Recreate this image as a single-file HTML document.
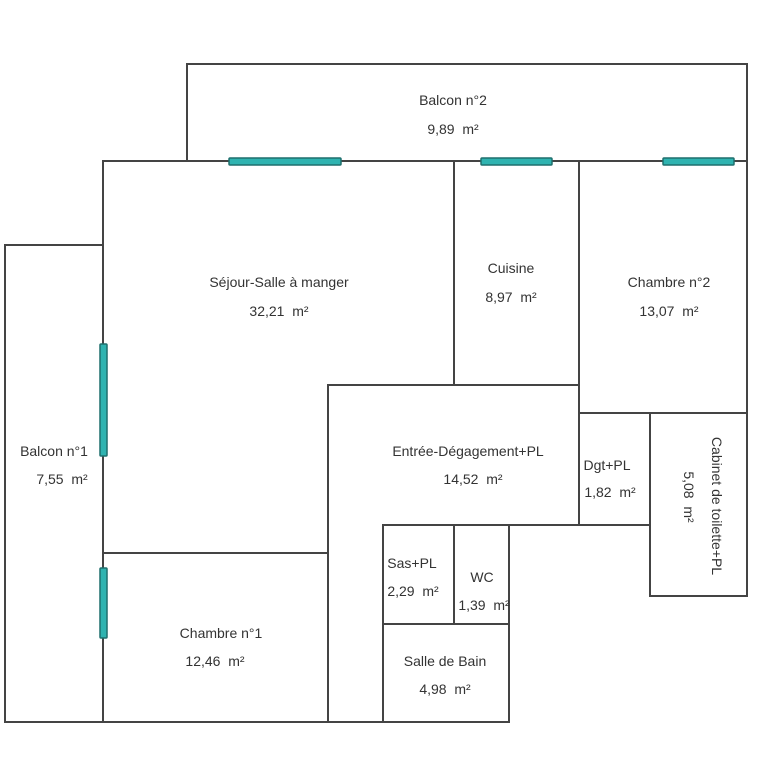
<!DOCTYPE html>
<html><head><meta charset="utf-8"><style>
html,body{margin:0;padding:0;background:#fff;}
svg{display:block;}
text{font-family:"Liberation Sans",Arial,sans-serif;font-size:14px;fill:#333;text-anchor:middle;}
</style></head><body>
<svg width="761" height="767" viewBox="0 0 761 767" xmlns="http://www.w3.org/2000/svg">
<g stroke="#444" stroke-width="2" fill="none" stroke-linecap="square">
<rect x="187" y="64" width="560" height="97"/>
<line x1="103" y1="161" x2="747" y2="161"/>
<line x1="103" y1="161" x2="103" y2="722"/>
<rect x="5" y="245" width="98" height="477"/>
<line x1="5" y1="722" x2="509" y2="722"/>
<line x1="454" y1="161" x2="454" y2="385"/>
<line x1="579" y1="161" x2="579" y2="525"/>
<line x1="747" y1="161" x2="747" y2="596"/>
<line x1="328" y1="385" x2="579" y2="385"/>
<line x1="328" y1="385" x2="328" y2="722"/>
<line x1="103" y1="553" x2="328" y2="553"/>
<line x1="579" y1="413" x2="747" y2="413"/>
<line x1="650" y1="413" x2="650" y2="596"/>
<line x1="650" y1="596" x2="747" y2="596"/>
<line x1="383" y1="525" x2="650" y2="525"/>
<line x1="383" y1="525" x2="383" y2="722"/>
<line x1="454" y1="525" x2="454" y2="624"/>
<line x1="509" y1="525" x2="509" y2="722"/>
<line x1="383" y1="624" x2="509" y2="624"/>
</g>
<g fill="#2fb3b0" stroke="#1f6f6d" stroke-width="1.5">
<rect x="229" y="158" width="112" height="7" rx="1"/>
<rect x="481" y="158" width="71" height="7" rx="1"/>
<rect x="663" y="158" width="71" height="7" rx="1"/>
<rect x="100" y="344" width="7" height="112" rx="1"/>
<rect x="100" y="568" width="7" height="70" rx="1"/>
</g>
<text x="453" y="105">Balcon n°2</text>
<text x="453" y="134">9,89 &#160;m²</text>
<text x="279" y="287">Séjour-Salle à manger</text>
<text x="279" y="316">32,21 &#160;m²</text>
<text x="511" y="273">Cuisine</text>
<text x="511" y="302">8,97 &#160;m²</text>
<text x="669" y="287">Chambre n°2</text>
<text x="669" y="316">13,07 &#160;m²</text>
<text x="54" y="456">Balcon n°1</text>
<text x="62" y="484">7,55 &#160;m²</text>
<text x="468" y="456">Entrée-Dégagement+PL</text>
<text x="473" y="484">14,52 &#160;m²</text>
<text x="607" y="470">Dgt+PL</text>
<text x="610" y="497">1,82 &#160;m²</text>
<text x="412" y="568">Sas+PL</text>
<text x="413" y="596">2,29 &#160;m²</text>
<text x="482" y="582">WC</text>
<text x="484" y="610">1,39 &#160;m²</text>
<text x="221" y="638">Chambre n°1</text>
<text x="215" y="666">12,46 &#160;m²</text>
<text x="445" y="666">Salle de Bain</text>
<text x="445" y="694">4,98 &#160;m²</text>
<text x="0" y="0" transform="translate(712,506) rotate(90)">Cabinet de toilette+PL</text>
<text x="0" y="0" transform="translate(684,497) rotate(90)">5,08 &#160;m²</text>
</svg>
</body></html>
